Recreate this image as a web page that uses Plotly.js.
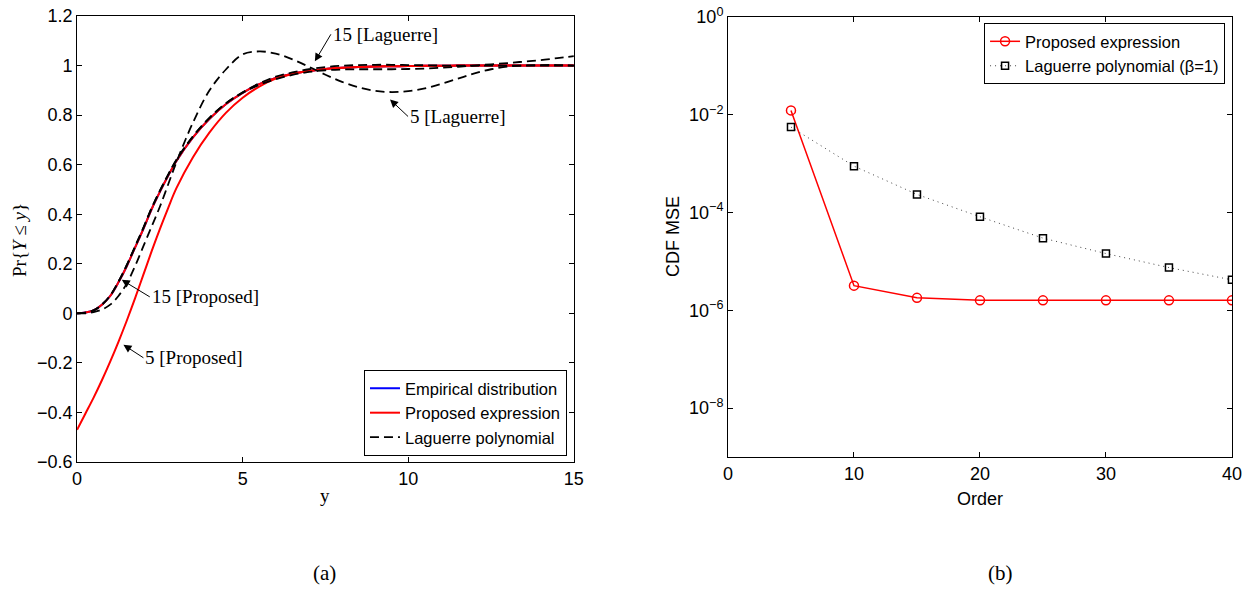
<!DOCTYPE html>
<html>
<head>
<meta charset="utf-8">
<script src="https://cdn.plot.ly/plotly-3.0.1.min.js"></script>
<style>html,body{margin:0;padding:0;background:#fff;}#plot{width:1253px;height:592px;}</style>
</head>
<body>
<div id="plot"></div>
<script>
// ---------- Panel (a): CDF curves ----------
const yGrid = [0,0.25,0.5,0.75,1,1.25,1.5,1.75,2,2.25,2.5,2.75,3,3.5,4,4.5,5,5.5,6,6.5,7,7.5,8,8.5,9,9.5,10,10.5,11,11.5,12,12.5,13,13.5,14,14.5,15];
const empiricalCDF = [0,0.003,0.012,0.035,0.07,0.125,0.19,0.265,0.34,0.42,0.49,0.555,0.615,0.71,0.785,0.845,0.89,0.925,0.95,0.967,0.978,0.986,0.991,0.994,0.996,0.997,0.998,0.999,0.999,1,1,1,1,1,1,1,1];
const proposed15 = [0,0.003,0.012,0.035,0.07,0.125,0.19,0.265,0.34,0.42,0.49,0.555,0.615,0.71,0.785,0.845,0.89,0.925,0.95,0.967,0.978,0.986,0.991,0.994,0.996,0.997,0.998,0.999,0.999,1,1,1,1,1,1,1,1];
const proposed5 = [-0.47,-0.405,-0.34,-0.27,-0.195,-0.115,-0.03,0.06,0.155,0.25,0.34,0.425,0.505,0.63,0.73,0.81,0.87,0.915,0.947,0.966,0.978,0.986,0.991,0.994,0.996,0.997,0.998,0.999,0.999,1,1,1,1,1,1,1,1];
const laguerre5 = [0,0,0.005,0.015,0.035,0.07,0.12,0.19,0.27,0.35,0.43,0.52,0.61,0.77,0.9,0.985,1.045,1.057,1.048,1.025,0.995,0.963,0.934,0.912,0.898,0.893,0.897,0.908,0.926,0.947,0.968,0.985,0.996,1.0,1.002,1.002,1.0];
const laguerre10 = [0,0.003,0.012,0.035,0.071,0.127,0.193,0.268,0.343,0.423,0.493,0.558,0.618,0.713,0.788,0.848,0.892,0.928,0.955,0.972,0.985,0.994,0.999,1.002,1.003,1.003,1.002,1.001,1.0,1.0,1.0,1.0,1.0,1.0,1.0,1.0,1.0];
const laguerre15 = [0,0.002,0.012,0.035,0.072,0.128,0.195,0.27,0.345,0.425,0.495,0.56,0.62,0.715,0.79,0.848,0.89,0.922,0.945,0.962,0.974,0.981,0.984,0.985,0.985,0.985,0.986,0.988,0.991,0.995,1.0,1.005,1.01,1.016,1.022,1.03,1.038];

// ---------- Panel (b): MSE vs order ----------
const orders = [5,10,15,20,25,30,35,40];
const mseProposed = [1.23e-2,3.2e-6,1.8e-6,1.6e-6,1.6e-6,1.6e-6,1.6e-6,1.6e-6];
const mseLaguerre = [5.6e-3,8.9e-4,2.35e-4,8.2e-5,3.0e-5,1.45e-5,7.5e-6,4.2e-6];

// tick labels
const aXTicks = [0,5,10,15];
const aYTicks = [-0.6,-0.4,-0.2,0,0.2,0.4,0.6,0.8,1,1.2];
const aYTickText = ['\u22120.6','\u22120.4','\u22120.2','0','0.2','0.4','0.6','0.8','1','1.2'];
const bXTicks = [0,10,20,30,40];
const bYTicks = [1e-8,1e-6,1e-4,1e-2,1];
const bYTickText = ['10<sup>\u22128</sup>','10<sup>\u22126</sup>','10<sup>\u22124</sup>','10<sup>\u22122</sup>','10<sup>0</sup>'];

const SANS = 'Liberation Sans, Arial, sans-serif';
const SERIF = 'Liberation Serif, Times New Roman, serif';
const dashBlack = {color:'#000', width:1.8, dash:'9px,5px', shape:'spline'};

const traces = [
  {x:yGrid, y:empiricalCDF, mode:'lines', name:'Empirical distribution', line:{color:'#0000ff', width:2, shape:'spline'}, xaxis:'x', yaxis:'y', legend:'legend'},
  {x:yGrid, y:proposed15, mode:'lines', name:'Proposed expression', line:{color:'#ff0000', width:2, shape:'spline'}, xaxis:'x', yaxis:'y', legend:'legend', legendgroup:'prop'},
  {x:yGrid, y:proposed5, mode:'lines', name:'Proposed expression', line:{color:'#ff0000', width:2, shape:'spline'}, xaxis:'x', yaxis:'y', showlegend:false, legendgroup:'prop'},
  {x:yGrid, y:laguerre15, mode:'lines', name:'Laguerre polynomial', line:dashBlack, xaxis:'x', yaxis:'y', legend:'legend', legendgroup:'lag'},
  {x:yGrid, y:laguerre10, mode:'lines', name:'Laguerre polynomial', line:dashBlack, xaxis:'x', yaxis:'y', showlegend:false, legendgroup:'lag'},
  {x:yGrid, y:laguerre5, mode:'lines', name:'Laguerre polynomial', line:dashBlack, xaxis:'x', yaxis:'y', showlegend:false, legendgroup:'lag'},
  {x:orders, y:mseProposed, mode:'lines+markers', name:'Proposed expression', line:{color:'#ff0000', width:1.5},
   marker:{symbol:'circle-open', size:9, color:'#ff0000', line:{width:1.5, color:'#ff0000'}}, xaxis:'x2', yaxis:'y2', legend:'legend2'},
  {x:orders, y:mseLaguerre, mode:'lines+markers', name:'Laguerre polynomial (\u03b2=1)', line:{color:'#444', width:1, dash:'1px,4px'},
   marker:{symbol:'square-open', size:7, color:'#000', line:{width:1.5, color:'#000'}}, xaxis:'x2', yaxis:'y2', legend:'legend2'}
];

const axBase = {showline:true, linecolor:'#000', linewidth:1, mirror:'allticks', ticks:'inside', ticklen:5, tickcolor:'#000',
  showgrid:false, zeroline:false, tickfont:{family:SANS, size:18, color:'#000'}};

const ann = (text, x, y, ax, ay) => ({text, x, y, ax, ay, xref:'x', yref:'y', axref:'pixel', ayref:'pixel',
  showarrow:true, arrowhead:2, arrowsize:1.6, arrowwidth:1, arrowcolor:'#000', xanchor:'left', yanchor:'middle',
  font:{family:SERIF, size:19, color:'#000'}, standoff:0});

const lbl = (text, px, py, font, angle) => ({text, x:px/1253, y:1-py/592, xref:'paper', yref:'paper', showarrow:false,
  xanchor:'center', yanchor:'middle', textangle:angle || 0, font});

const layout = {
  width:1253, height:592, margin:{l:0,r:0,t:0,b:0}, paper_bgcolor:'#fff', plot_bgcolor:'#fff',
  showlegend:true,
  xaxis: Object.assign({}, axBase, {domain:[0.0615,0.458], range:[0,15], tickvals:aXTicks, anchor:'y'}),
  yaxis: Object.assign({}, axBase, {domain:[0.2196,0.973], range:[-0.6,1.2], tickvals:aYTicks, ticktext:aYTickText, anchor:'x'}),
  xaxis2: Object.assign({}, axBase, {domain:[0.581,0.9832], range:[0,40], tickvals:bXTicks, anchor:'y2'}),
  yaxis2: Object.assign({}, axBase, {domain:[0.228,0.9713], type:'log', range:[-9,0], tickvals:bYTicks, ticktext:bYTickText, anchor:'x2'}),
  legend:{x:0.4525, y:0.2297, xanchor:'right', yanchor:'bottom', bgcolor:'#fff', bordercolor:'#000', borderwidth:1,
    font:{family:SANS, size:16.5, color:'#000'}, tracegroupgap:0},
  legend2:{x:0.9777, y:0.961, xanchor:'right', yanchor:'top', bgcolor:'#fff', bordercolor:'#000', borderwidth:1,
    font:{family:SANS, size:16.5, color:'#000'}},
  annotations:[
    ann('15 [Laguerre]', 7.18, 1.017, 16, -27),
    ann('5 [Laguerre]', 9.45, 0.863, 18, 17),
    ann('15 [Proposed]', 1.35, 0.135, 28, 17),
    ann('5 [Proposed]', 1.4, -0.127, 20, 13),
    lbl('Pr{<i>Y</i> \u2264 <i>y</i>}', 19, 240, {family:SERIF, size:19, color:'#000'}, -90),
    lbl('y', 325, 495, {family:SERIF, size:19, color:'#000'}),
    lbl('CDF MSE', 673, 237, {family:SANS, size:18, color:'#000'}, -90),
    lbl('Order', 980, 499, {family:SANS, size:18, color:'#000'}),
    lbl('(a)', 325, 573, {family:SERIF, size:21, color:'#000'}),
    lbl('(b)', 1000, 573, {family:SERIF, size:21, color:'#000'})
  ]
};

Plotly.newPlot('plot', traces, layout, {displayModeBar:false, staticPlot:true});
</script>
</body>
</html>
